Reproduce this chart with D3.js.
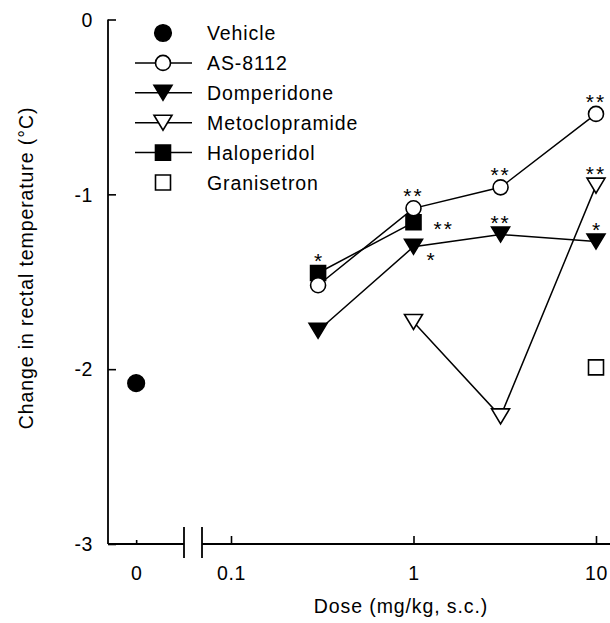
<!DOCTYPE html>
<html>
<head>
<meta charset="utf-8">
<script src="https://cdn.jsdelivr.net/npm/d3@7"></script>
<style>
  body { margin: 0; background: #fff; }
  text { font-family: "Liberation Sans", Arial, Helvetica, sans-serif; fill: #000; }
</style>
</head>
<body>
<svg id="chart" width="610" height="623"></svg>
<script>
// dose groups (mg/kg, s.c.)
var doses = [0.3, 1, 3, 10];
var vehicleDose = [0];

// change in rectal temperature, one value per dose (null = not tested)
var vehicle = [-2.08];
var as8112 = [-1.52, -1.08, -0.96, -0.54];
var domperidone = [-1.78, -1.30, -1.23, -1.27];
var metoclopramide = [null, -1.73, -2.27, -0.95];
var haloperidol = [-1.45, -1.16, null, null];
var granisetron = [null, null, null, -1.99];

var yTicks = [0, -1, -2, -3];
var xTicks = [0.1, 1, 10];
var xMinorTicks = [0.2, 0.3, 0.4, 0.5, 0.6, 0.7, 0.8, 0.9, 2, 3, 4, 5, 6, 7, 8, 9];

// significance marks
var stars = [
  {series: "Haloperidol", dose: 0.3, mark: "*", pos: "above"},
  {series: "AS-8112", dose: 1, mark: "**", pos: "above"},
  {series: "Haloperidol", dose: 1, mark: "**", pos: "right"},
  {series: "Domperidone", dose: 1, mark: "*", pos: "lowright"},
  {series: "AS-8112", dose: 3, mark: "**", pos: "above"},
  {series: "Domperidone", dose: 3, mark: "**", pos: "above"},
  {series: "AS-8112", dose: 10, mark: "**", pos: "above"},
  {series: "Metoclopramide", dose: 10, mark: "**", pos: "above"},
  {series: "Domperidone", dose: 10, mark: "*", pos: "above"}
];

var series = [
  {name: "Vehicle", values: vehicle, xs: vehicleDose, sym: "dot", fill: "#000", line: false},
  {name: "AS-8112", values: as8112, xs: doses, sym: "circle", fill: "#fff", line: true},
  {name: "Domperidone", values: domperidone, xs: doses, sym: "tri", fill: "#000", line: true},
  {name: "Metoclopramide", values: metoclopramide, xs: doses, sym: "tri", fill: "#fff", line: true},
  {name: "Haloperidol", values: haloperidol, xs: doses, sym: "square", fill: "#000", line: true},
  {name: "Granisetron", values: granisetron, xs: doses, sym: "square", fill: "#fff", line: false}
];

var svg = d3.select("#chart");

var y = d3.scaleLinear().domain([-3, 0]).range([544, 19.5]);
var x = d3.scaleLog().domain([0.1, 10]).range([231, 596]);
var xZero = d3.scaleLinear().domain([-1, 1.7]).range([108, 184]);

function xPos(s, d) { return s.xs === vehicleDose ? xZero(d) : x(d); }

function symbolPath(sym) {
  if (sym == "dot") return "M-8.3,0A8.3,8.3 0 1,0 8.3,0A8.3,8.3 0 1,0 -8.3,0Z";
  if (sym == "circle") return "M-7.5,0A7.5,7.5 0 1,0 7.5,0A7.5,7.5 0 1,0 -7.5,0Z";
  if (sym == "tri") return "M-9,-7.5L9,-7.5L0,7.5Z";
  return "M-7.5,-7.5L7.5,-7.5L7.5,7.5L-7.5,7.5Z";
}

var fontSize = "19.5px";

// y axis
var yAxis = svg.append("g").attr("transform", "translate(108,0)");
yAxis.call(d3.axisLeft(y).tickValues(d3.range(-3, 0.001, 0.2)).tickSize(-4.5).tickSizeOuter(0).tickFormat(""));
yAxis.call(d3.axisLeft(y).tickValues(yTicks).tickSize(-8).tickSizeOuter(0).tickPadding(15)
  .tickFormat(function(d) { return String(d); }));
yAxis.selectAll(".domain").remove();
yAxis.selectAll("text").attr("font-size", fontSize).attr("dy", "0.35em");
yAxis.append("line").attr("x1", 0).attr("x2", 0).attr("y1", y(0)).attr("y2", y(-3))
  .attr("stroke", "#000").attr("stroke-width", 1.8);

// x axis, zero segment
var xz = svg.append("g").attr("transform", "translate(0,544)");
xz.call(d3.axisBottom(xZero).tickValues(vehicleDose).tickSize(-4).tickSizeOuter(0).tickPadding(22).tickFormat(String));
xz.selectAll(".domain").remove();
xz.append("line").attr("x1", 108).attr("x2", 184).attr("stroke", "#000").attr("stroke-width", 1.8);
xz.append("line").attr("x1", 184).attr("x2", 184).attr("y1", -17).attr("y2", 14).attr("stroke", "#000").attr("stroke-width", 1.8);

// x axis, log segment
var xl = svg.append("g").attr("transform", "translate(0,544)");
xl.call(d3.axisBottom(x).tickValues(xMinorTicks).tickSize(-4.5).tickSizeOuter(0).tickFormat(""));
xl.call(d3.axisBottom(x).tickValues(xTicks).tickSize(-8).tickSizeOuter(0).tickPadding(22).tickFormat(String));
xl.selectAll(".domain").remove();
xl.append("line").attr("x1", 202).attr("x2", 610).attr("stroke", "#000").attr("stroke-width", 1.8);
xl.append("line").attr("x1", 202).attr("x2", 202).attr("y1", -17).attr("y2", 14).attr("stroke", "#000").attr("stroke-width", 1.8);

svg.selectAll(".tick line").attr("stroke", "#000").attr("stroke-width", 1.6);
xz.selectAll("text").attr("font-size", fontSize);
xl.selectAll("text").attr("font-size", fontSize);
svg.selectAll(".tick text").attr("letter-spacing", "0.6px");
svg.selectAll("g").attr("font-family", null);

// axis titles
svg.append("text")
  .attr("x", 401)
  .attr("y", 613)
  .attr("text-anchor", "middle")
  .attr("font-size", fontSize)
  .attr("letter-spacing", "0.9px")
  .text("Dose (mg/kg, s.c.)");

svg.append("text")
  .attr("transform", "translate(33,268) rotate(-90)")
  .attr("text-anchor", "middle")
  .attr("font-size", fontSize)
  .attr("letter-spacing", "0.9px")
  .text("Change in rectal temperature (\u00B0C)");

// series lines
var line = d3.line()
  .x(function(d) { return d.x; })
  .y(function(d) { return y(d.v); });

function pts(s) {
  return s.values
    .map(function(v, i) { return {x: xPos(s, s.xs[i]), v: v}; })
    .filter(function(d) { return d.v != null; });
}

var drawOrder = ["Haloperidol", "Domperidone", "Metoclopramide", "AS-8112", "Granisetron", "Vehicle"];

drawOrder.forEach(function(name) {
  var s = series.find(function(d) { return d.name == name; });
  if (s.line) {
    svg.append("path")
      .attr("d", line(pts(s)))
      .attr("fill", "none")
      .attr("stroke", "#000")
      .attr("stroke-width", 1.5);
  }
});

drawOrder.forEach(function(name) {
  var s = series.find(function(d) { return d.name == name; });
  svg.append("g").selectAll("path")
    .data(pts(s))
    .join("path")
    .attr("transform", function(d) { return "translate(" + d.x + "," + y(d.v) + ")"; })
    .attr("d", symbolPath(s.sym))
    .attr("fill", s.fill)
    .attr("stroke", "#000")
    .attr("stroke-width", 1.6);
});

// stars
var starOffset = {above: [0, -17], right: [20, 2], lowright: [13, 8]};
stars.forEach(function(st) {
  var s = series.find(function(d) { return d.name == st.series; });
  var v = s.values[s.xs.indexOf(st.dose)];
  var off = starOffset[st.pos];
  svg.append("text")
    .attr("x", x(st.dose) + off[0])
    .attr("y", y(v) + off[1] + 12)
    .attr("text-anchor", st.pos == "above" ? "middle" : "start")
    .attr("font-size", "21px")
    .attr("letter-spacing", st.mark.length > 1 ? "2px" : "0px")
    .text(st.mark);
});

// legend
var legend = svg.append("g").attr("transform", "translate(0,33)");
var rows = legend.selectAll("g")
  .data(series)
  .join("g")
  .attr("transform", function(d, i) { return "translate(0," + (i * 29.9) + ")"; });

rows.filter(function(d) { return d.line; })
  .append("line")
  .attr("x1", 135).attr("x2", 192)
  .attr("stroke", "#000").attr("stroke-width", 1.5);

rows.append("path")
  .attr("transform", "translate(163,0)")
  .attr("d", function(d) { return symbolPath(d.sym); })
  .attr("fill", function(d) { return d.fill; })
  .attr("stroke", "#000")
  .attr("stroke-width", 1.6);

rows.append("text")
  .attr("x", 207)
  .attr("dy", "0.36em")
  .attr("font-size", fontSize)
  .attr("letter-spacing", "0.9px")
  .text(function(d) { return d.name; });
</script>
</body>
</html>
